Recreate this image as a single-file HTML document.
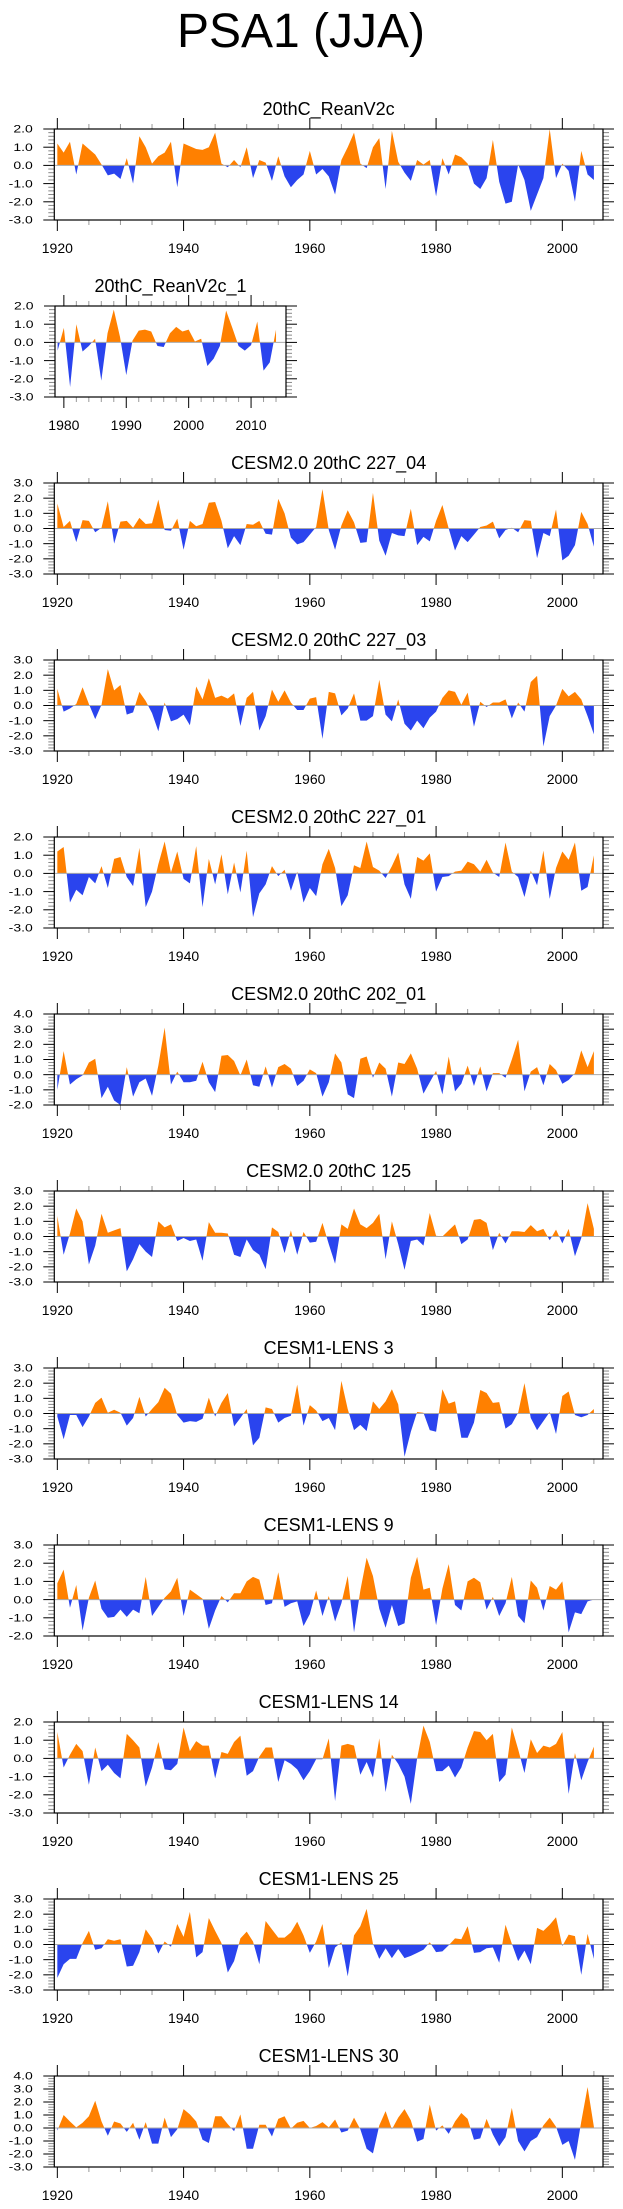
<!DOCTYPE html>
<html>
<head>
<meta charset="utf-8">
<style>
  html,body{margin:0;padding:0;background:#fff;}
  svg{display:block;}
  text{font-family:"Liberation Sans",Arial,sans-serif;fill:#000;}
</style>
</head>
<body>
<svg id="fig" width="623" height="2209" viewBox="0 0 623 2209">
  <text x="301" y="47" font-size="48" text-anchor="middle">PSA1 (JJA)</text>
</svg>
<script>
// ---- data (yearly PSA1 index values) ----
const yearsMain = {start:1920, end:2005};
const yearsObs1 = {start:1979, end:2014};

const reanV2c = [1.2,0.7,1.3,-0.5,1.2,0.9,0.6,0.05,-0.55,-0.45,
 -0.75,0.4,-1.0,1.6,1.0,0.1,0.5,0.7,1.3,-1.2,
 1.2,1.05,0.9,0.85,1.0,1.8,0.1,-0.1,0.3,-0.1,
 1.0,-0.7,0.3,0.15,-0.85,0.5,-0.6,-1.2,-0.8,-0.5,
 0.8,-0.5,-0.2,-0.6,-1.6,0.3,1.0,1.8,0.1,-0.15,
 1.0,1.5,-1.3,1.9,0.2,-0.4,-0.85,0.3,0.05,0.3,
 -1.7,0.4,-0.5,0.6,0.45,0.1,-1.0,-1.3,-0.7,1.4,
 -0.9,-2.1,-2.0,0.05,-0.8,-2.5,-1.6,-0.7,2.0,-0.7,
 0.1,-0.3,-2.0,0.8,-0.5,-0.8];

const reanV2c1 = [-0.45,0.8,-2.45,1.0,-0.5,-0.2,0.2,-2.1,0.5,1.8,
 0.3,-1.8,0.1,0.65,0.7,0.6,-0.2,-0.25,0.5,0.85,
 0.6,0.7,0.05,0.2,-1.3,-0.9,-0.2,1.75,0.8,-0.2,
 -0.45,-0.15,1.15,-1.55,-1.1,0.7];

const cesm2_227_04 = [1.65,0.1,0.5,-0.9,0.55,0.5,-0.25,0.05,1.8,-1.0,
 0.45,0.5,0.05,0.7,0.3,0.35,1.9,-0.1,-0.15,0.65,
 -1.4,0.5,0.15,0.3,1.7,1.75,0.5,-1.3,-0.5,-1.1,
 0.3,0.25,0.5,-0.35,-0.4,1.95,1.0,-0.6,-1.05,-0.9,
 -0.4,0.1,2.6,-0.1,-1.4,0.2,1.2,0.4,-0.95,-0.9,
 2.35,-0.8,-1.8,-0.3,-0.45,-0.5,1.3,-1.1,-0.55,-0.85,
 0.5,1.55,0.0,-1.45,-0.5,-0.9,-0.4,0.1,0.2,0.45,
 -0.65,-0.1,0.05,-0.25,0.55,0.5,-1.95,-0.3,-0.5,1.25,
 -2.1,-1.8,-1.1,1.1,0.3,-1.2];

const cesm2_227_03 = [1.1,-0.4,-0.2,0.1,1.2,0.1,-0.9,0.05,2.4,1.0,
 1.35,-0.6,-0.45,0.9,0.3,-0.5,-1.7,0.2,-1.05,-0.9,
 -0.6,-1.3,1.25,0.4,1.8,0.5,0.65,0.45,0.8,-1.35,
 0.5,0.9,-1.65,-0.7,1.05,0.25,1.0,0.2,-0.3,-0.3,
 0.45,0.55,-2.2,0.9,0.8,-0.65,-0.2,0.8,-1.0,-1.0,
 -0.7,1.7,-0.6,-1.05,0.4,-1.2,-1.65,-1.0,-1.5,-0.8,
 -0.4,0.5,1.0,0.9,0.05,0.85,-1.4,0.25,-0.1,0.2,
 0.2,0.4,-0.85,0.2,-0.4,1.55,1.95,-2.7,-0.7,0.0,
 1.1,0.6,0.9,0.4,-0.7,-1.9];

const cesm2_227_01 = [1.2,1.45,-1.6,-0.9,-1.2,-0.2,-0.55,0.4,-0.8,0.8,
 0.9,-0.2,-0.7,1.4,-1.85,-1.0,0.5,1.75,0.05,1.2,
 -0.3,-0.55,1.5,-1.85,0.8,-0.6,1.05,-1.15,0.6,-1.05,
 1.25,-2.4,-1.1,-0.6,0.4,-0.15,0.2,-0.95,0.1,-1.6,
 -0.8,-1.25,0.5,1.35,0.3,-1.8,-1.2,0.45,0.3,1.75,
 0.35,0.15,-0.25,0.4,1.15,-0.6,-1.4,0.9,0.7,1.1,
 -1.0,-0.2,-0.15,0.1,0.15,0.65,0.5,0.1,0.75,0.05,
 -0.2,1.7,0.1,-0.2,-1.3,0.15,-0.65,1.25,-1.4,0.3,
 1.2,0.75,1.7,-0.95,-0.75,1.0];

const cesm2_202_01 = [-1.0,1.55,-0.65,-0.3,-0.05,0.8,1.05,-1.55,-0.8,-1.7,
 -2.0,0.5,-1.45,-0.5,-0.25,-1.4,0.6,3.1,-0.65,0.2,
 -0.5,-0.5,-0.4,0.85,-0.5,-1.15,1.25,1.3,0.9,-0.05,
 1.0,-0.7,-0.8,0.55,-0.85,0.5,0.7,0.4,-0.75,-0.4,
 0.35,0.1,-1.45,-0.5,1.4,0.8,-1.3,-1.55,1.05,1.2,
 -0.2,0.8,0.4,-1.45,0.8,0.7,1.4,0.4,-1.25,-0.5,
 0.25,-1.3,1.2,-1.1,-0.6,0.6,-0.75,0.55,-1.1,0.1,
 0.1,-0.2,1.0,2.3,-1.1,0.2,0.5,-0.7,0.7,0.3,
 -0.6,-0.35,0.1,1.6,0.5,1.55];

const cesm2_125 = [1.35,-1.2,0.2,1.85,1.0,-1.85,-0.6,1.5,0.25,0.4,
 0.55,-2.3,-1.5,-0.5,-1.0,-1.35,1.0,0.6,0.8,-0.3,
 -0.1,-0.3,-0.2,-1.6,0.95,0.25,0.25,0.2,-1.2,-1.35,
 -0.2,-0.9,-1.2,-2.15,0.6,0.3,-1.1,0.4,-1.2,0.3,
 -0.4,-0.35,0.9,-0.5,-1.8,0.8,0.5,1.85,0.8,0.55,
 0.9,1.5,-1.5,1.0,-0.5,-2.2,-0.3,-0.2,-0.6,1.55,
 0.05,0.0,0.4,0.8,-0.5,-0.2,1.1,1.15,0.9,-0.9,
 0.25,-0.45,0.35,0.35,0.3,0.75,0.35,0.5,-0.25,0.45,
 -0.45,0.5,-1.3,-0.1,2.2,0.5];

const lens3 = [-0.2,-1.7,-0.1,-0.1,-0.9,-0.2,0.7,1.05,0.05,0.25,
 0.05,-0.8,-0.3,1.1,-0.2,0.3,0.75,1.7,1.3,-0.1,
 -0.6,-0.5,-0.55,-0.35,1.05,-0.2,0.7,1.35,-0.85,-0.3,
 0.3,-2.1,-1.6,0.4,0.3,-0.6,-0.3,-0.15,1.9,-0.8,
 0.55,0.2,-0.5,-0.3,-1.1,2.15,0.3,-1.1,-0.75,-1.15,
 0.8,0.3,0.8,1.6,0.6,-2.85,-1.2,0.1,0.05,-1.1,
 -1.2,1.6,0.65,0.8,-1.6,-1.6,-0.6,1.55,1.35,0.7,
 0.75,-1.0,-0.7,0.05,2.0,-0.3,-1.1,-0.5,0.1,-1.35,
 1.15,1.45,-0.1,-0.25,-0.1,0.3];

const lens9 = [0.9,1.65,-0.45,0.8,-1.7,0.1,1.05,-0.5,-1.0,-0.95,
 -0.55,-0.95,-0.55,-0.75,1.25,-0.9,-0.4,0.1,0.45,1.2,
 -0.9,0.55,0.3,0.05,-1.6,-0.6,0.2,-0.15,0.35,0.35,
 1.0,1.25,1.1,-0.3,-0.2,1.5,-0.4,-0.2,-0.1,-1.45,
 -0.8,0.5,-0.9,0.2,-1.2,-0.2,1.3,-1.8,0.5,2.3,
 1.3,-0.5,-1.55,-0.3,-1.45,-1.3,1.2,2.35,0.55,0.65,
 -1.4,0.6,1.95,-0.3,-0.6,1.0,1.2,0.95,-0.55,0.15,
 -0.9,-0.2,1.25,-0.9,-1.3,1.05,0.65,-0.6,0.75,0.55,
 1.0,-1.8,-0.7,-0.8,-0.1,0.0];

const lens14 = [1.45,-0.5,0.2,0.8,0.4,-1.45,0.6,-0.7,-0.35,-0.8,
 -1.1,1.35,1.0,0.6,-1.55,-0.5,0.9,-0.6,-0.65,-0.3,
 1.7,0.4,0.95,0.7,0.7,-1.1,0.35,0.25,0.9,1.25,
 -0.95,-0.7,0.1,0.6,0.6,-1.3,-0.1,-0.3,-0.6,-1.2,
 -0.7,-0.05,-0.05,1.1,-2.35,0.7,0.8,0.7,-0.9,-0.2,
 -1.05,1.1,-1.85,0.2,-0.3,-1.0,-2.5,0.0,1.8,0.9,
 -0.7,-0.7,-0.4,-1.05,-0.5,0.6,1.5,1.45,1.0,1.35,
 -1.3,-0.9,1.7,0.5,-0.8,1.05,0.3,0.7,0.6,0.8,
 1.45,-1.95,0.3,-1.2,-0.2,0.65];

const lens25 = [-2.2,-1.3,-0.95,-0.95,0.1,0.9,-0.35,-0.25,0.35,0.25,
 0.35,-1.45,-1.4,-0.5,1.0,0.4,-0.6,0.2,-0.15,1.35,
 0.5,2.15,-0.85,-0.5,1.75,0.9,0.1,-1.85,-1.1,0.4,
 0.85,0.2,-1.3,1.55,1.0,0.45,0.45,0.8,1.5,0.6,
 -0.55,0.2,1.35,-1.55,-0.2,0.15,-2.1,0.6,1.2,2.35,
 0.05,-0.95,-0.25,-0.9,-0.3,-0.9,-0.75,-0.55,-0.35,0.15,
 -0.5,-0.45,-0.05,0.4,0.35,1.2,-0.55,-0.5,-0.25,-0.2,
 -1.2,1.3,0.05,-1.1,-0.4,-1.3,1.1,0.9,1.3,1.8,
 -0.1,0.65,0.55,-2.0,0.7,-0.95];

const lens30 = [-0.2,1.0,0.5,0.05,0.4,0.9,2.1,0.5,-0.6,0.5,
 0.35,-0.3,0.4,-0.9,0.45,-1.2,-1.2,0.8,-0.7,-0.1,
 1.45,1.05,0.5,-0.9,-1.15,0.9,0.9,0.3,-0.25,1.05,
 -1.6,-1.6,0.25,0.25,-0.65,0.7,0.9,-0.05,0.4,0.55,
 0.0,0.15,0.45,0.05,0.65,-0.35,-0.2,0.8,-0.1,-1.6,
 -1.95,0.2,1.3,-0.1,0.8,1.45,0.6,-1.05,-0.85,1.8,
 -0.2,0.2,-0.45,0.5,1.15,0.7,-0.9,-0.8,0.7,-0.5,
 -1.4,-0.7,1.55,-1.0,-1.8,-1.0,-0.7,0.2,0.8,0.1,
 -1.3,-1.0,-2.45,0.5,3.15,0.1];

const panelTitles = ["20thC_ReanV2c","20thC_ReanV2c_1","CESM2.0 20thC 227_04","CESM2.0 20thC 227_03",
 "CESM2.0 20thC 227_01","CESM2.0 20thC 202_01","CESM2.0 20thC 125","CESM1-LENS 3",
 "CESM1-LENS 9","CESM1-LENS 14","CESM1-LENS 25","CESM1-LENS 30"];
const panelSeries = [reanV2c,reanV2c1,cesm2_227_04,cesm2_227_03,cesm2_227_01,cesm2_202_01,
 cesm2_125,lens3,lens9,lens14,lens25,lens30];
const yMaxs = [2,2,3,3,2,4,3,3,3,2,3,4];
const yMins = [-3,-3,-3,-3,-3,-2,-3,-3,-2,-3,-3,-3];

// ---- drawing ----
const NS = "http://www.w3.org/2000/svg";
const svg = document.getElementById('fig');
function el(tag, attrs, parent){
  const e = document.createElementNS(NS, tag);
  for (const k in attrs) e.setAttribute(k, attrs[k]);
  (parent||svg).appendChild(e);
  return e;
}
const ORANGE = "#ff8000", BLUE = "#2a44ee";

panelSeries.forEach((vals, p) => {
  const small = (p === 1);
  const top = 129 + 177*p, bot = top + 91;
  const left = small ? 55 : 54.3;
  const right = small ? 286 : 603;
  const yr0 = small ? yearsObs1.start : yearsMain.start;
  const axMin = small ? 1978.58 : 1919.52;
  const pxYr = small ? 6.24 : 6.3125;
  const xS = yr => left + (yr - axMin) * pxYr;
  const yMax = yMaxs[p], yMin = yMins[p];
  const yS = v => top + (yMax - v) / (yMax - yMin) * (bot - top);

  const g = el('g', {});
  
  

  const cx = (left + right) / 2;
  const t = el('text', {x: cx, y: top - 14, 'font-size': 18, 'text-anchor': 'middle'}, g);
  t.textContent = panelTitles[p];
  
  

  // clip paths
  const id = 'c' + p;
  const defs = el('defs', {}, g);
  const y0 = yS(0);
  const cpA = el('clipPath', {id: id + 'a'}, defs);
  el('rect', {x: left, y: top, width: right-left, height: y0 - top}, cpA);
  const cpB = el('clipPath', {id: id + 'b'}, defs);
  el('rect', {x: left, y: y0, width: right-left, height: bot - y0}, cpB);

  let pts = vals.map((v, i) => xS(yr0 + i).toFixed(2) + ',' + yS(v).toFixed(2));
  const xFirst = xS(yr0), xLast = xS(yr0 + vals.length - 1);
  const poly = pts.join(' ') + ' ' + xLast.toFixed(2) + ',' + y0.toFixed(2) + ' ' + xFirst.toFixed(2) + ',' + y0.toFixed(2);
  const pos = el('polygon', {points: poly, fill: ORANGE, 'clip-path': 'url(#' + id + 'a)'}, g);
  
  
  const neg = el('polygon', {points: poly, fill: BLUE, 'clip-path': 'url(#' + id + 'b)'}, g);
  
  

  const zl = el('line', {x1: left, x2: right, y1: y0, y2: y0, stroke: '#aaaaaa', 'stroke-width': 1}, g);
  
  

  // y ticks
  for (let v = yMin; v <= yMax + 1e-9; v += 0.2) {
    const vv = Math.round(v * 10) / 10;
    const y = yS(vv);
    const major = Math.abs(vv - Math.round(vv)) < 1e-6;
    const len = major ? 11 : 6;
    el('line', {x1: left - len, x2: left, y1: y, y2: y, stroke: major ? '#000' : '#888', 'stroke-width': 1}, g);
    el('line', {x1: right, x2: right + len, y1: y, y2: y, stroke: major ? '#000' : '#888', 'stroke-width': 1}, g);
    if (major) {
      const lb = el('text', {'font-size': 14, 'text-anchor': 'end',
        transform: 'translate(' + (left - 21.5) + ',' + (y + 3.7) + ') scale(1,0.78)'}, g);
      lb.textContent = vv.toFixed(1);
      
      
    }
  }

  // x ticks
  const yrStart = Math.ceil(axMin), yrEnd = Math.floor(axMin + (right - left) / pxYr);
  const majStep = small ? 10 : 20, minStep = small ? 2 : 5;
  for (let yr = yrStart; yr <= yrEnd; yr++) {
    const major = yr % majStep === 0;
    const minor = yr % minStep === 0;
    if (!major && !minor) continue;
    const x = xS(yr);
    const len = major ? 11 : 5;
    const col = major ? '#000' : '#999';
    el('line', {x1: x, x2: x, y1: top - len, y2: top, stroke: col, 'stroke-width': 1}, g);
    el('line', {x1: x, x2: x, y1: bot, y2: bot + len, stroke: col, 'stroke-width': 1}, g);
    if (major) {
      const lb = el('text', {x: x, y: bot + 33, 'font-size': 14, 'text-anchor': 'middle'}, g);
      lb.textContent = yr;
      
      
    }
  }

  const box = el('rect', {x: left, y: top, width: right-left, height: bot-top, fill: 'none', stroke: '#000', 'stroke-width': 1.2}, g);
  
  
});
</script>
</body>
</html>
